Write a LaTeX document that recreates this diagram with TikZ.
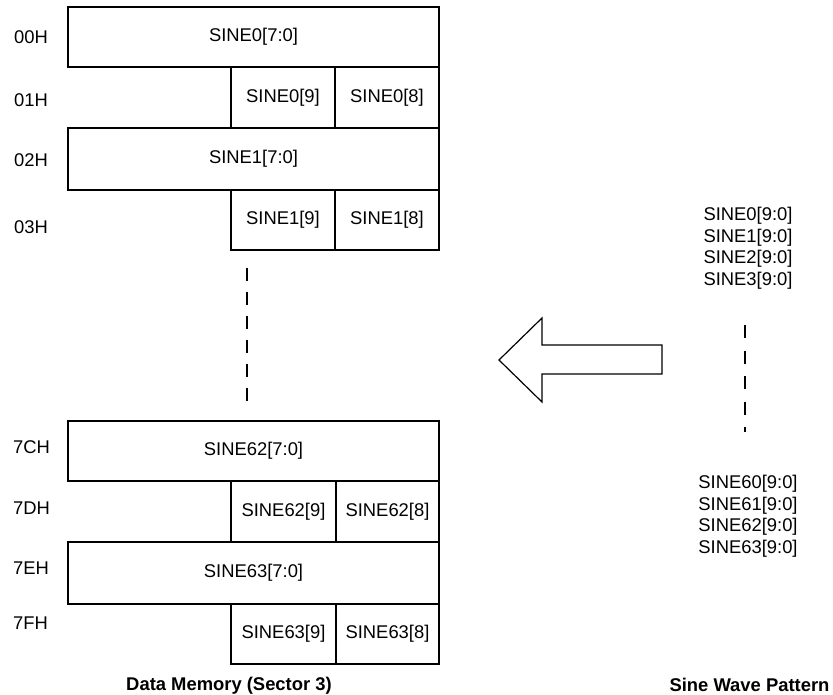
\documentclass[tikz,border=0pt]{standalone}
\usepackage{fontspec}
\setmainfont{Liberation Sans}
\begin{document}
\begin{tikzpicture}[x=1pt,y=-1pt,
  cell/.style={draw=black, line width=1.2pt, rectangle, inner sep=0pt, outer sep=0pt, font=\fontsize{18.4}{22}\selectfont},
  addr/.style={anchor=west, inner sep=0pt, font=\fontsize{18.4}{22}\selectfont},
  item/.style={inner sep=0pt, font=\fontsize{18.4}{22}\selectfont},
  captext/.style={inner sep=0pt, font=\fontsize{18.4}{22}\selectfont\bfseries},
  dots/.style={line width=1.2pt, dash pattern=on 13pt off 11pt}]
\useasboundingbox (0,0) rectangle (833,695);
% top block
\node[cell, minimum width=371pt, minimum height=60pt] (r00) at (253.5,37) {SINE0[7:0]};
\node[cell, minimum width=104pt, minimum height=61pt] (r01a) at (283,97.5) {SINE0[9]};
\node[cell, minimum width=104pt, minimum height=61pt] (r01b) at (387,97.5) {SINE0[8]};
\node[cell, minimum width=371pt, minimum height=62pt] (r02) at (253.5,159) {SINE1[7:0]};
\node[cell, minimum width=104pt, minimum height=60pt] (r03a) at (283,220) {SINE1[9]};
\node[cell, minimum width=104pt, minimum height=60pt] (r03b) at (387,220) {SINE1[8]};
% bottom block
\node[cell, minimum width=371pt, minimum height=60pt] (r7C) at (253.5,451) {SINE62[7:0]};
\node[cell, minimum width=105pt, minimum height=61pt] (r7Da) at (283.5,511.5) {SINE62[9]};
\node[cell, minimum width=103pt, minimum height=61pt] (r7Db) at (387.5,511.5) {SINE62[8]};
\node[cell, minimum width=371pt, minimum height=62pt] (r7E) at (253.5,573) {SINE63[7:0]};
\node[cell, minimum width=105pt, minimum height=60pt] (r7Fa) at (283.5,634) {SINE63[9]};
\node[cell, minimum width=103pt, minimum height=60pt] (r7Fb) at (387.5,634) {SINE63[8]};
% address labels
\node[addr] (a00) at (14,37) {00H};
\node[addr] (a01) at (14,100) {01H};
\node[addr] (a02) at (14,160) {02H};
\node[addr] (a03) at (14,227) {03H};
\node[addr] (a7C) at (13,447) {7CH};
\node[addr] (a7D) at (13,508) {7DH};
\node[addr] (a7E) at (13,568) {7EH};
\node[addr] (a7F) at (13,623) {7FH};
% left dashed line
\coordinate (ld1) at (247,268);
\coordinate (ld2) at (247,404);
\draw[dots] (ld1) -- (ld2);
% sine pattern list
\node[item] (s0) at (748,216) {SINE0[9:0]};
\node[item] (s1) at (748,237.5) {SINE1[9:0]};
\node[item] (s2) at (748,259) {SINE2[9:0]};
\node[item] (s3) at (748,280.5) {SINE3[9:0]};
\coordinate (rd1) at (745,325);
\coordinate (rd2) at (745,432);
\draw[line width=1.2pt, dash pattern=on 13pt off 12.5pt] (rd1) -- (rd2);
\node[item] (s60) at (748,484) {SINE60[9:0]};
\node[item] (s61) at (748,505.5) {SINE61[9:0]};
\node[item] (s62) at (748,527) {SINE62[9:0]};
\node[item] (s63) at (748,548.5) {SINE63[9:0]};
% big arrow
\draw[line width=1.2pt, line join=miter] (662,345) -- (542,345) -- (542,318) -- (499,360) -- (542,402) -- (542,374) -- (662,374) -- cycle;
% captions
\node[captext] (c1) at (229,686) {Data Memory (Sector 3)};
\node[captext] (c2) at (749.5,685) {Sine Wave Pattern};
\end{tikzpicture}
\end{document}
